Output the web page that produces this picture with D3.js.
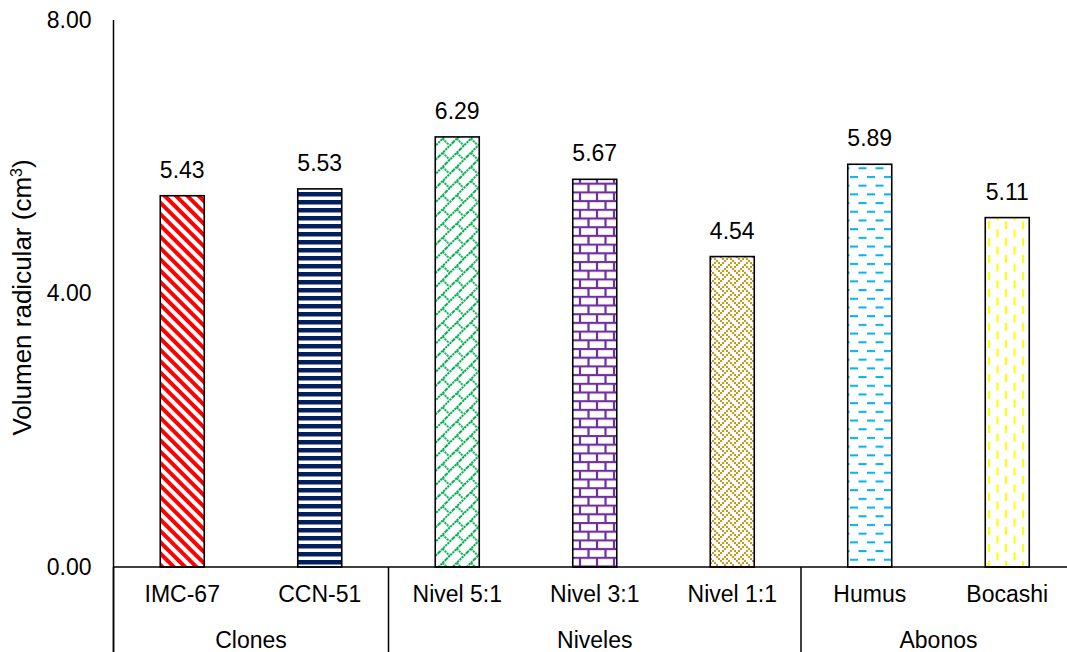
<!DOCTYPE html>
<html>
<head>
<meta charset="utf-8">
<script src="https://cdn.jsdelivr.net/npm/d3@7"></script>
<style>
  html, body { margin: 0; padding: 0; background: #fff; }
  text { font-family: "Liberation Sans", Arial, sans-serif; fill: #000; }
</style>
</head>
<body>
<svg id="chart" width="1067" height="652"></svg>
<script>
// Root volume per treatment
const categories = ["IMC-67", "CCN-51", "Nivel 5:1", "Nivel 3:1", "Nivel 1:1", "Humus", "Bocashi"];
const values = [5.43, 5.53, 6.29, 5.67, 4.54, 5.89, 5.11];
const groupNames = ["Clones", "Niveles", "Abonos"];
const groupSizes = [2, 3, 2];
const fills = ["diag", "hstripe", "shingle", "brick", "weave", "hdash", "vdash"];
const yTicks = [0, 4, 8];

const svg = d3.select("#chart");
const W = 1067, H = 652;
const margin = { left: 113.5, right: -9, top: 20, bottom: 85 };
const FS = "23px";

const x = d3.scaleBand()
  .domain(categories)
  .range([margin.left, W - margin.right])
  .paddingInner(0.68)
  .paddingOuter(0.34);

const y = d3.scaleLinear().domain([0, 8]).range([H - margin.bottom, margin.top]);

// ---- fill patterns ----
const defs = svg.append("defs");

// red wide downward diagonal
{
  const p = defs.append("pattern").attr("id", "diag").attr("patternUnits", "userSpaceOnUse")
    .attr("width", 8).attr("height", 8).attr("patternTransform", "rotate(-45)");
  p.append("rect").attr("width", 8).attr("height", 8).attr("fill", "#fff");
  p.append("rect").attr("width", 4).attr("height", 8).attr("fill", "#FF0000");
}
// navy horizontal stripes
{
  const p = defs.append("pattern").attr("id", "hstripe").attr("patternUnits", "userSpaceOnUse")
    .attr("width", 8).attr("height", 8);
  p.append("rect").attr("width", 8).attr("height", 8).attr("fill", "#fff");
  p.append("rect").attr("y", 0).attr("width", 8).attr("height", 4.5).attr("fill", "#002060");
}
// green shingle (diagonal brick)
{
  const p = defs.append("pattern").attr("id", "shingle").attr("patternUnits", "userSpaceOnUse")
    .attr("width", 20).attr("height", 20).attr("patternTransform", "rotate(-45)");
  p.append("rect").attr("width", 20).attr("height", 20).attr("fill", "#fff");
  const g = p.append("g").attr("stroke", "#00B050").attr("stroke-width", 1.8).attr("stroke-dasharray", "2.2,0.8");
  g.append("line").attr("x1", 0).attr("y1", 1).attr("x2", 20).attr("y2", 1);
  g.append("line").attr("x1", 0).attr("y1", 11).attr("x2", 20).attr("y2", 11);
  g.append("line").attr("x1", 5).attr("y1", 1).attr("x2", 5).attr("y2", 11);
  g.append("line").attr("x1", 15).attr("y1", 11).attr("x2", 15).attr("y2", 21);
}
// purple horizontal brick
{
  const p = defs.append("pattern").attr("id", "brick").attr("patternUnits", "userSpaceOnUse")
    .attr("width", 17).attr("height", 17.4);
  p.append("rect").attr("width", 17).attr("height", 17.4).attr("fill", "#fff");
  const g = p.append("g").attr("stroke", "#7030A0").attr("stroke-width", 2.2);
  g.append("line").attr("x1", 0).attr("y1", 1).attr("x2", 17).attr("y2", 1);
  g.append("line").attr("x1", 0).attr("y1", 9.7).attr("x2", 17).attr("y2", 9.7);
  g.append("line").attr("x1", 2).attr("y1", 1).attr("x2", 2).attr("y2", 9.7);
  g.append("line").attr("x1", 10.5).attr("y1", 9.7).attr("x2", 10.5).attr("y2", 17.4);
}
// golden weave
{
  const bits = [
    "10001000",
    "01010100",
    "00100010",
    "01000101",
    "10001000",
    "00010101",
    "00100010",
    "01010001"
  ];
  const c = 2;
  const p = defs.append("pattern").attr("id", "weave").attr("patternUnits", "userSpaceOnUse")
    .attr("width", 8 * c).attr("height", 8 * c);
  p.append("rect").attr("width", 8 * c).attr("height", 8 * c).attr("fill", "#fff");
  bits.forEach((row, r) => {
    row.split("").forEach((b, k) => {
      if (b === "1") p.append("rect").attr("x", k * c).attr("y", r * c)
        .attr("width", c).attr("height", c).attr("fill", "#C99A1B");
    });
  });
}
// cyan dashed horizontal
{
  const p = defs.append("pattern").attr("id", "hdash").attr("patternUnits", "userSpaceOnUse")
    .attr("width", 17).attr("height", 17.4);
  p.append("rect").attr("width", 17).attr("height", 17.4).attr("fill", "#fff");
  p.append("rect").attr("x", 0).attr("y", 2).attr("width", 8).attr("height", 2).attr("fill", "#00B0F0");
  p.append("rect").attr("x", 8.5).attr("y", 10.7).attr("width", 8).attr("height", 2).attr("fill", "#00B0F0");
}
// yellow dashed vertical
{
  const p = defs.append("pattern").attr("id", "vdash").attr("patternUnits", "userSpaceOnUse")
    .attr("width", 17).attr("height", 17);
  p.append("rect").attr("width", 17).attr("height", 17).attr("fill", "#fff");
  p.append("rect").attr("x", 2).attr("y", 0).attr("width", 2).attr("height", 8).attr("fill", "#FFFF00");
  p.append("rect").attr("x", 10.5).attr("y", 8.5).attr("width", 2).attr("height", 8).attr("fill", "#FFFF00");
}

// ---- bars ----
svg.append("g").selectAll("rect").data(categories).join("rect")
  .attr("x", d => x(d))
  .attr("y", (d, i) => y(values[i]))
  .attr("width", x.bandwidth())
  .attr("height", (d, i) => y(0) - y(values[i]))
  .attr("fill", (d, i) => `url(#${fills[i]})`)
  .attr("stroke", "#000")
  .attr("stroke-width", 1.6);

// value labels
svg.append("g").selectAll("text").data(categories).join("text")
  .attr("x", d => x(d) + x.bandwidth() / 2)
  .attr("y", (d, i) => y(values[i]) - 18)
  .attr("text-anchor", "middle")
  .style("font-size", FS)
  .text((d, i) => values[i].toFixed(2));

// ---- y axis ----
const yAxis = d3.axisLeft(y).tickValues(yTicks).tickSize(0).tickPadding(22)
  .tickFormat(d3.format(".2f"));
const ya = svg.append("g").attr("transform", `translate(${margin.left},0)`).call(yAxis);
ya.select(".domain").remove();
ya.selectAll("text").style("font-size", FS)
  .style("font-family", "'Liberation Sans', Arial, sans-serif").attr("fill", "#000");

svg.append("line")
  .attr("x1", margin.left).attr("x2", margin.left)
  .attr("y1", y(8)).attr("y2", H)
  .attr("stroke", "#000").attr("stroke-width", 1.5);

// baseline
svg.append("line")
  .attr("x1", margin.left).attr("x2", W - margin.right)
  .attr("y1", y(0)).attr("y2", y(0))
  .attr("stroke", "#000").attr("stroke-width", 1.5);

// y title
svg.append("text")
  .attr("transform", `translate(31,${(y(0) + y(8)) / 2 + 4}) rotate(-90)`)
  .attr("text-anchor", "middle")
  .style("font-size", "26px")
  .text("Volumen radicular (cm")
  .append("tspan").attr("dy", -9).style("font-size", "16px").text("3")
  .select(function () { return this.parentNode; })
  .append("tspan").attr("dy", 9).text(")");

// ---- category axis ----
const xAxis = d3.axisBottom(x).tickSize(0).tickPadding(19);
const xa = svg.append("g").attr("transform", `translate(0,${y(0)})`).call(xAxis);
xa.select(".domain").remove();
xa.selectAll("text").style("font-size", FS)
  .style("font-family", "'Liberation Sans', Arial, sans-serif").attr("fill", "#000");

// group separators and group names
const step = x.step();
let start = 0;
const sepIdx = [0];
groupSizes.forEach(n => { start += n; sepIdx.push(start); });
const edge = i => margin.left + i * step;
svg.append("g").selectAll("line").data(sepIdx).join("line")
  .attr("x1", edge).attr("x2", edge)
  .attr("y1", y(0)).attr("y2", H)
  .attr("stroke", "#000").attr("stroke-width", 1.5);

svg.append("g").selectAll("text").data(groupNames).join("text")
  .attr("x", (d, i) => (edge(sepIdx[i]) + edge(sepIdx[i + 1])) / 2)
  .attr("y", H - 4)
  .attr("text-anchor", "middle")
  .style("font-size", FS)
  .text(d => d);
</script>
</body>
</html>
